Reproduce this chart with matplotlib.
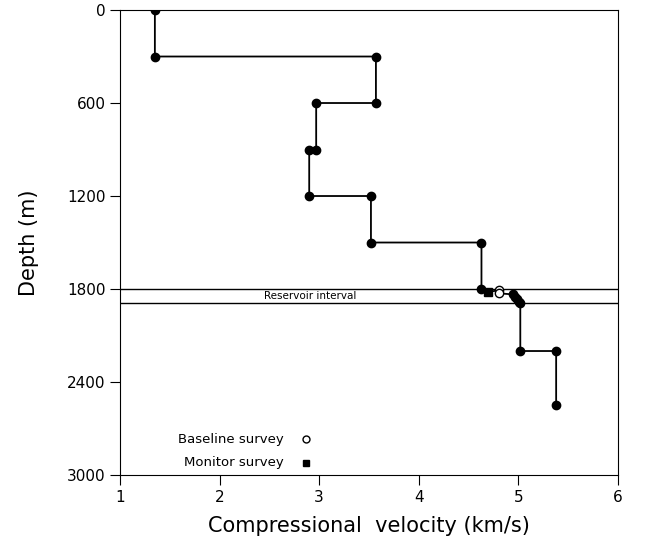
import numpy as np
import matplotlib.pyplot as plt

# velocity profile above the reservoir (km/s, m)
upper_vel = [1.35, 1.35, 3.57, 3.57, 2.97, 2.97, 2.90, 2.90, 3.52, 3.52, 4.63, 4.63]
upper_depth = [0, 300, 300, 600, 600, 900, 900, 1200, 1200, 1500, 1500, 1800]

# reservoir interval
baseline_vel = [4.81, 4.81]
baseline_depth = [1808, 1828]
monitor_vel = [4.70]
monitor_depth = [1818]
res_vel = [4.95, 4.97, 4.99, 5.01]
res_depth = [1835, 1850, 1865, 1882]

# below the reservoir
lower_vel = [5.02, 5.02, 5.38, 5.38]
lower_depth = [1890, 2200, 2200, 2550]

res_top, res_base = 1800, 1890


def main():
    fig = plt.figure(figsize=(6.47, 5.44), dpi=100)
    ax = fig.add_axes([0.1855, 0.1268, 0.7695, 0.8548])

    ax.axhline(res_top, color="black", lw=1.0)
    ax.axhline(res_base, color="black", lw=1.0)
    ax.text(2.91, (res_top + res_base) / 2, "Reservoir interval", fontsize=7.5,
            ha="center", va="center")

    all_vel = upper_vel + monitor_vel + baseline_vel + res_vel + lower_vel
    all_depth = upper_depth + monitor_depth + baseline_depth + res_depth + lower_depth
    ax.plot(all_vel, all_depth, color="black", lw=1.3, zorder=2)

    ax.plot(upper_vel, upper_depth, "o", color="black", ms=6, zorder=3)
    ax.plot(res_vel, res_depth, "o", color="black", ms=6, zorder=3)
    ax.plot(lower_vel, lower_depth, "o", color="black", ms=6, zorder=3)
    ax.plot(baseline_vel, baseline_depth, "o", mfc="white", mec="black", ms=6, mew=1, zorder=4)
    ax.plot(monitor_vel, monitor_depth, "s", color="black", ms=6, zorder=4)

    # legend drawn by hand like the original
    ax.text(2.64, 2770, "Baseline survey", fontsize=9.5, ha="right", va="center")
    ax.plot([2.87], [2770], "o", mfc="white", mec="black", ms=5, mew=1)
    ax.text(2.64, 2920, "Monitor survey", fontsize=9.5, ha="right", va="center")
    ax.plot([2.87], [2920], "s", color="black", ms=5)

    ax.set_xlim(1, 6)
    ax.set_ylim(3000, 0)
    ax.set_xticks(np.arange(1, 7))
    ax.set_yticks(np.arange(0, 3001, 600))
    ax.tick_params(direction="out", length=7, labelsize=11, top=False, right=False)
    ax.set_xlabel("Compressional  velocity (km/s)", fontsize=15, labelpad=8)
    ax.set_ylabel("Depth (m)", fontsize=15, labelpad=20)

    fig.savefig("out.png", dpi=100)


if __name__ == '__main__':
    main()
